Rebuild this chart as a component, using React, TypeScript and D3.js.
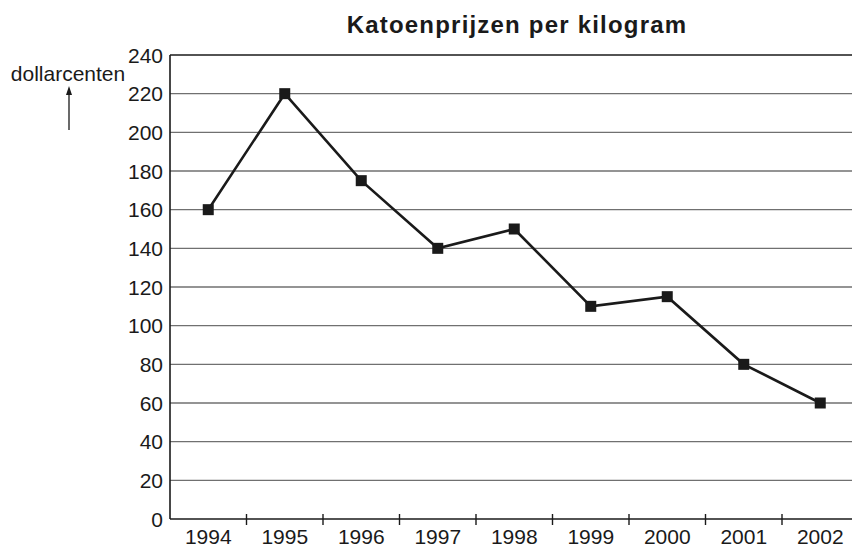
import React from 'react';
import * as d3 from 'd3';

const years = ['1994', '1995', '1996', '1997', '1998', '1999', '2000', '2001', '2002'];
const prices = [160, 220, 175, 140, 150, 110, 115, 80, 60];
const yTicks = [0, 20, 40, 60, 80, 100, 120, 140, 160, 180, 200, 220, 240];

const width = 852;
const height = 547;
const left = 170;
const top = 55;
const bottom = 519;

const App = () => {
  // band of 76.5px per year, runs a little past the right edge like the original
  const x = d3.scaleBand().domain(years).range([left, left + 76.5 * years.length]);
  const y = d3.scaleLinear().domain([0, 240]).range([bottom, top]);

  const line = d3
    .line<number>()
    .x((d, i) => x(years[i])! + x.bandwidth() / 2)
    .y((d) => y(d));

  const font = 'Liberation Sans, Arial, Helvetica, sans-serif';

  return (
    <div style={{ position: 'fixed', left: 0, top: 0 }}>
      <svg width={width} height={height} style={{ display: 'block', background: '#fff' }}>
        <text x={517} y={33} textAnchor="middle" fontFamily={font} fontSize={24} fontWeight="bold"
          letterSpacing={1.2} fill="#1a1a1a">
          Katoenprijzen per kilogram
        </text>

        {/* gridlines */}
        {yTicks.map((t) => (
          <line key={t} x1={left} x2={width} y1={y(t)} y2={y(t)}
            stroke={t === 240 || t === 0 ? '#1a1a1a' : '#707070'}
            strokeWidth={t === 240 || t === 0 ? 1.6 : 1.3} />
        ))}

        {/* y tick labels */}
        {yTicks.map((t) => (
          <text key={t} x={163} y={y(t)} dy="0.36em" textAnchor="end" fontFamily={font}
            fontSize={21} fill="#1a1a1a">
            {t}
          </text>
        ))}

        {/* y axis */}
        <line x1={left} x2={left} y1={top} y2={bottom} stroke="#1a1a1a" strokeWidth={1.6} />

        {/* x ticks between years */}
        {years.slice(1).map((yr) => (
          <line key={yr} x1={x(yr)!} x2={x(yr)!} y1={bottom - 5} y2={bottom + 6}
            stroke="#1a1a1a" strokeWidth={1.4} />
        ))}
        {years.map((yr) => (
          <text key={yr} x={x(yr)! + x.bandwidth() / 2} y={544} textAnchor="middle"
            fontFamily={font} fontSize={21} fill="#1a1a1a">
            {yr}
          </text>
        ))}

        {/* unit label and arrow */}
        <text x={68} y={81} textAnchor="middle" fontFamily={font} fontSize={21} fill="#1a1a1a">
          dollarcenten
        </text>
        <line x1={69} x2={69} y1={130} y2={90} stroke="#1a1a1a" strokeWidth={1.3} />
        <path d="M69,86 L66,95 L72,95 Z" fill="#1a1a1a" />

        {/* series */}
        <path d={line(prices)!} fill="none" stroke="#1a1a1a" strokeWidth={2.6} strokeLinejoin="miter" />
        {prices.map((p, i) => (
          <rect key={i} x={x(years[i])! + x.bandwidth() / 2 - 5.5} y={y(p) - 5.5}
            width={11} height={11} fill="#1a1a1a" />
        ))}
      </svg>
    </div>
  );
};

export default App;
